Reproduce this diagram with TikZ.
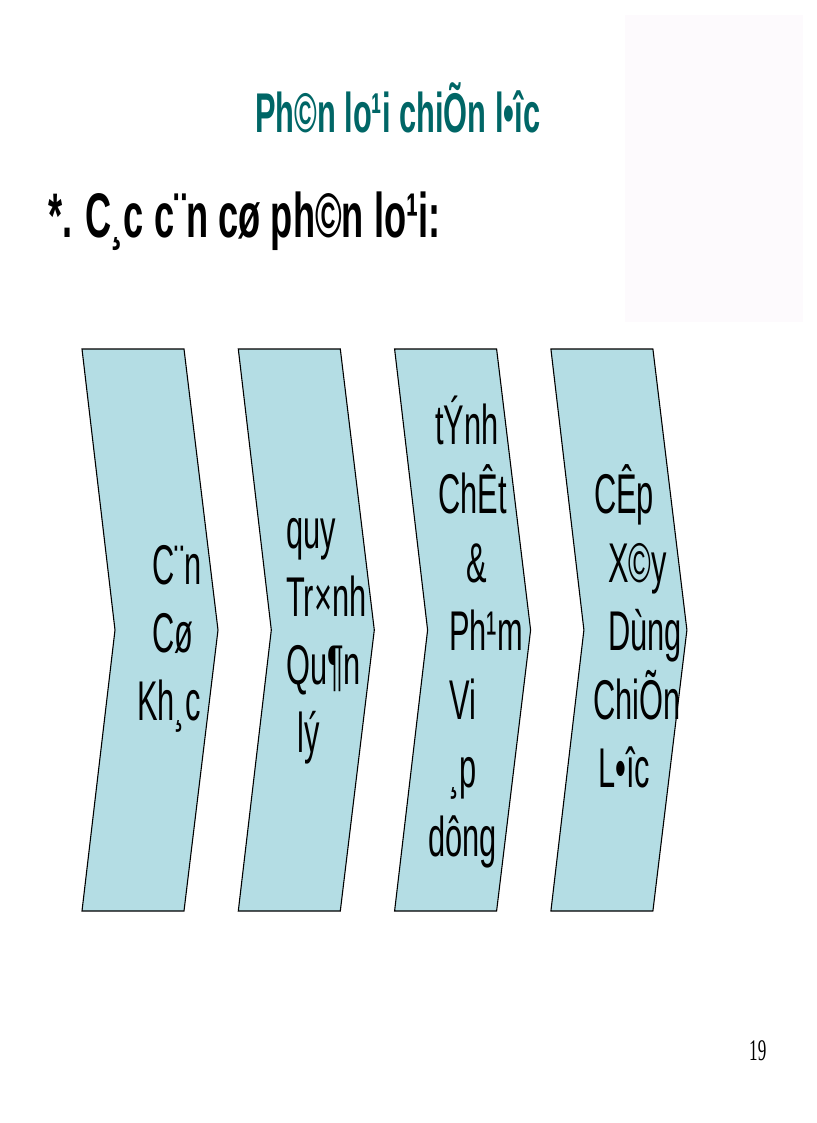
\documentclass[tikz,border=0pt]{standalone}
\usepackage{fontspec}
\setmainfont{Liberation Sans}[FakeStretch=0.55]
\newfontfamily\headfont{Liberation Sans}[FakeStretch=0.575]
\newfontfamily\pagenofont{Liberation Serif}[FakeStretch=0.57]

\definecolor{chevfill}{RGB}{180,221,228}
\definecolor{titleteal}{RGB}{0,102,102}
\definecolor{faintpink}{RGB}{253,250,253}

\tikzset{
	chevron/.style={draw=black, line width=1.1pt, fill=chevfill, line join=miter},
	chevtext/.style={anchor=base west, inner sep=0pt, font=\fontsize{56}{68}\selectfont},
	headtext/.style={anchor=base west, inner sep=0pt, font=\bfseries\fontsize{#1}{#1}\selectfont},
}

\begin{document}
\begin{tikzpicture}[x=1pt,y=-1pt]
		\useasboundingbox (0,0) rectangle (816,1123);
		\fill[faintpink] (625,15) rectangle (803,322);
	
		\node[headtext=56, text=titleteal] (title) at (255,133) {Ph©n lo¹i chiÕn l•îc};
		\node[headtext=63] (heading) at (48,237) {\headfont *. C¸c c¨n cø ph©n lo¹i:};
		
		% the four chevrons
		\foreach \i in {0,...,3}{
			\draw[chevron, shift={({156.3*\i},0)}] (82,349) -- (184,349) -- (218,630) -- (184,911) -- (82,911) -- (115,630) -- cycle;
		}
		
		% chevron 1
		\node[chevtext] (cnA) at (152,584) {C¨n};
		\node[chevtext] (cnB) at (152,652) {Cø};
		\node[chevtext] (cnC) at (137,720) {Kh¸c};
		
		% chevron 2
		\node[chevtext] (qtA) at (286,548) {quy};
		\node[chevtext] (qtB) at (286,616) {Tr×nh};
		\node[chevtext] (qtC) at (286,684) {Qu¶n};
		\node[chevtext] (qtD) at (297,752) {lý};
		
		% chevron 3
		\node[chevtext] (tcA) at (435,444) {tÝnh};
		\node[chevtext] (tcB) at (438,513) {ChÊt};
		\node[chevtext] (tcC) at (466,582) {\&};
		\node[chevtext] (tcD) at (449,650) {Ph¹m};
		\node[chevtext] (tcE) at (449,719) {Vi};
		\node[chevtext] (tcF) at (449,787) {¸p};
		\node[chevtext] (tcG) at (428,856) {dông};
		
		% chevron 4
		\node[chevtext] (cxA) at (594,513) {CÊp};
		\node[chevtext] (cxB) at (608,582) {X©y};
		\node[chevtext] (cxC) at (608,650) {Dùng};
		\node[chevtext] (cxD) at (593,719) {ChiÕn};
		\node[chevtext] (cxE) at (598,787) {L•îc};
		
		\node[anchor=base west, inner sep=0pt, font=\pagenofont\fontsize{30}{30}\selectfont] (pageno) at (749,1060) {19};
	\end{tikzpicture}
\end{document}
